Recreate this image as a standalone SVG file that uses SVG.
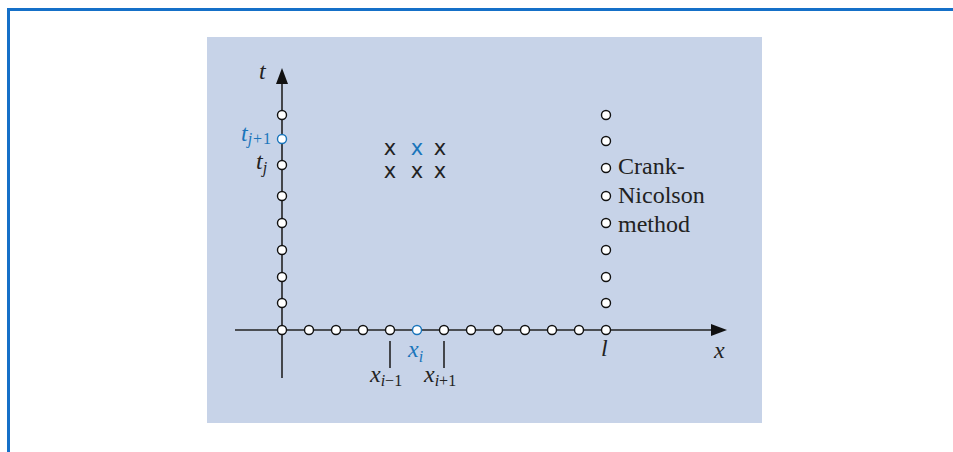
<svg xmlns="http://www.w3.org/2000/svg" width="953" height="452" viewBox="0 0 953 452">
<defs>
<style>
.ax{stroke:#222;stroke-width:1.6;fill:none}
.pt{fill:#fff;stroke:#111;stroke-width:1.4}
.bp{fill:#fff;stroke:#1a75bb;stroke-width:1.4}
.it{font-family:"Liberation Serif",serif;font-style:italic;fill:#222;font-size:24px}
.sub{font-size:16px}
.rm{font-family:"Liberation Serif",serif;fill:#222;font-size:24px}
.xm{font-family:"DejaVu Sans","Liberation Sans",sans-serif;font-size:21px;fill:#222;text-anchor:middle}
</style>
</defs>
<rect x="0" y="0" width="953" height="452" fill="#fff"/>
<path d="M8.5 452 V9.5 H953" stroke="#1570c8" stroke-width="3" fill="none"/>
<rect x="207" y="37" width="555" height="386" fill="#c7d3e8"/>
<g id="connectors">
<line class="ax" x1="282" y1="378" x2="282" y2="82"/>
<polygon points="276,84 288,84 282,68" fill="#111"/>
<line class="ax" x1="235" y1="330" x2="712" y2="330"/>
<polygon points="711,324 711,336 727,330" fill="#111"/>
<line class="ax" x1="390" y1="341" x2="390" y2="368"/>
<line class="ax" x1="444" y1="341" x2="444" y2="368"/>
</g>
<g id="t-axis-points">
<circle class="pt" cx="282" cy="115" r="4.5"/>
<circle class="bp" cx="282" cy="139" r="4.5"/>
<circle class="pt" cx="282" cy="165" r="4.5"/>
<circle class="pt" cx="282" cy="196" r="4.5"/>
<circle class="pt" cx="282" cy="223" r="4.5"/>
<circle class="pt" cx="282" cy="250" r="4.5"/>
<circle class="pt" cx="282" cy="277" r="4.5"/>
<circle class="pt" cx="282" cy="303" r="4.5"/>
</g>
<g id="x-axis-points">
<circle class="pt" cx="282" cy="330" r="4.5"/>
<circle class="pt" cx="309" cy="330" r="4.5"/>
<circle class="pt" cx="336" cy="330" r="4.5"/>
<circle class="pt" cx="363" cy="330" r="4.5"/>
<circle class="pt" cx="390" cy="330" r="4.5"/>
<circle class="bp" cx="417" cy="330" r="4.5"/>
<circle class="pt" cx="444" cy="330" r="4.5"/>
<circle class="pt" cx="471" cy="330" r="4.5"/>
<circle class="pt" cx="498" cy="330" r="4.5"/>
<circle class="pt" cx="525" cy="330" r="4.5"/>
<circle class="pt" cx="552" cy="330" r="4.5"/>
<circle class="pt" cx="579" cy="330" r="4.5"/>
<circle class="pt" cx="606" cy="330" r="4.5"/>
</g>
<g id="boundary-points">
<circle class="pt" cx="606" cy="115" r="4.5"/>
<circle class="pt" cx="606" cy="141" r="4.5"/>
<circle class="pt" cx="606" cy="168" r="4.5"/>
<circle class="pt" cx="606" cy="196" r="4.5"/>
<circle class="pt" cx="606" cy="223" r="4.5"/>
<circle class="pt" cx="606" cy="250" r="4.5"/>
<circle class="pt" cx="606" cy="277" r="4.5"/>
<circle class="pt" cx="606" cy="303" r="4.5"/>
</g>
<g id="stencil">
<text class="xm" x="390" y="155">x</text>
<text class="xm" x="417" y="155" style="fill:#1a75bb">x</text>
<text class="xm" x="440" y="155">x</text>
<text class="xm" x="390" y="178">x</text>
<text class="xm" x="417" y="178">x</text>
<text class="xm" x="440" y="178">x</text>
</g>
<g id="labels">
<text class="it" x="259" y="79">t</text>
<text class="it" x="241" y="141" style="fill:#1a75bb">t<tspan class="sub" dy="3">j+</tspan><tspan class="sub" style="font-style:normal">1</tspan></text>
<text class="it" x="256" y="169">t<tspan class="sub" dy="4">j</tspan></text>
<text class="it" x="408" y="357" style="fill:#1a75bb">x<tspan class="sub" dy="5">i</tspan></text>
<text class="it" x="370" y="382">x<tspan class="sub" dy="4">i</tspan><tspan class="sub" style="font-style:normal">−1</tspan></text>
<text class="it" x="424" y="382">x<tspan class="sub" dy="4">i</tspan><tspan class="sub" style="font-style:normal">+1</tspan></text>
<text class="it" x="601" y="356">l</text>
<text class="it" x="714" y="358">x</text>
</g>
<g id="method-label">
<text class="rm" x="618" y="174">Crank-</text>
<text class="rm" x="618" y="203">Nicolson</text>
<text class="rm" x="618" y="232">method</text>
</g>
</svg>
